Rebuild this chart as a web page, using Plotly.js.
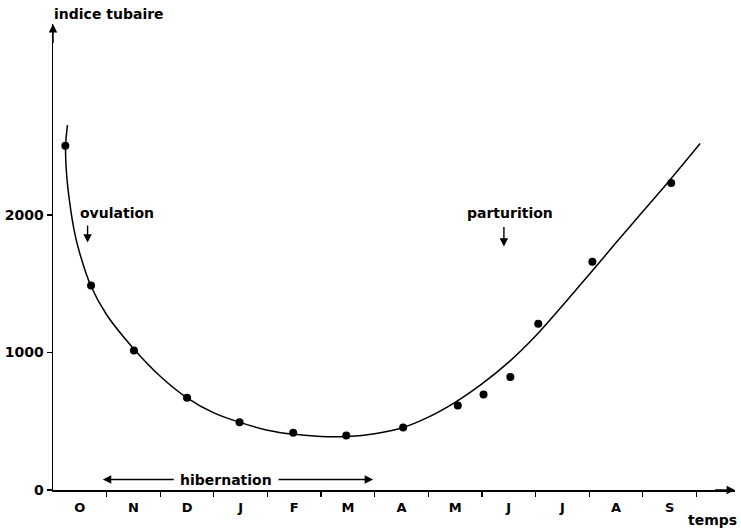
<!DOCTYPE html>
<html>
<head>
<meta charset="utf-8">
<script src="https://cdn.plot.ly/plotly-3.0.1.min.js"></script>
<style>html,body{margin:0;padding:0;background:#fff;}#chart{width:741px;height:530px;}</style>
</head>
<body>
<div id="chart"></div>
<script>
// Month labels (centred in each month interval) and tick boundaries
const months = ["O","N","D","J","F","M","A","M","J","J","A","S"];
const monthCenters = [0.5,1.5,2.5,3.5,4.5,5.5,6.5,7.5,8.5,9.5,10.5,11.5];
const monthBounds = [1,2,3,4,5,6,7,8,9,10,11,12];
const yTicks = [0, 1000, 2000];

// Observed points (time in months from start of October, indice tubaire)
const obsTime  = [0.23, 0.71, 1.51, 2.5, 3.48, 4.48, 5.47, 6.53, 7.55, 8.03, 8.53, 9.05, 10.06, 11.53];
const obsIndex = [2505, 1487, 1015, 671, 493, 416, 396, 455, 615, 695, 822, 1209, 1660, 2234];

// Fitted curve
const fitTime  = [0.27, 0.235, 0.255, 0.33, 0.41, 0.504, 0.709, 1.0, 1.5, 2.0, 2.5, 3.0, 3.5, 4.0, 4.5, 5.0, 5.5, 6.0, 6.53, 7.0, 7.5, 8.0, 8.5, 9.0, 9.5, 10.0, 10.5, 11.0, 11.5, 12.07];
const fitIndex = [2655, 2505, 2290, 2040, 1860, 1715, 1482, 1275, 1030, 828, 671, 561, 490, 435, 405, 390, 390, 410, 455, 530, 638, 772, 930, 1120, 1340, 1568, 1798, 2026, 2252, 2520];

const FONT = 'DejaVu Sans, Verdana, sans-serif';
const XMAX = 12.72, YMAX = 3390;

const traces = [
  {x: fitTime, y: fitIndex, mode: 'lines', line: {color: '#000', width: 1.5, shape: 'spline', smoothing: 0.9}, hoverinfo: 'skip', showlegend: false},
  {x: obsTime, y: obsIndex, mode: 'markers', marker: {color: '#000', size: 8}, showlegend: false},
  {x: monthCenters, y: monthCenters.map(() => 0), xaxis: 'x2', mode: 'none', hoverinfo: 'skip', showlegend: false}
];

const arrow = (x, y, ax, ay) => ({
  x: x, y: y, ax: ax, ay: ay, xref: 'x', yref: 'y', axref: 'x', ayref: 'y',
  text: '', showarrow: true, arrowhead: 2, arrowsize: 1.2, arrowwidth: 1.4, arrowcolor: '#000'
});
const label = (x, y, text, anchor, extra) => Object.assign({
  xref: 'x', yref: 'y', x: x, y: y, xanchor: anchor, yanchor: 'middle', text: text,
  showarrow: false, font: {family: FONT, size: 14, color: '#000', weight: 'bold'}
}, extra || {});

const annotations = [
  label(-0.0015, 1.0225, 'indice tubaire', 'left', {xref: 'paper', yref: 'paper'}),
  label(1.006, -0.064, 'temps', 'right', {xref: 'paper', yref: 'paper'}),
  label(0.466, 2018, 'ovulation', 'left'),
  label(7.68, 2018, 'parturition', 'left'),
  label(3.23, 76, 'hibernation', 'center'),
  arrow(0.645, 1800, 0.645, 1935),
  arrow(8.41, 1771, 8.41, 1925),
  arrow(0.93, 76, 2.28, 76),
  arrow(5.97, 76, 4.18, 76),
  arrow(0, YMAX, 0, YMAX - 150),
  arrow(XMAX, 0, XMAX - 0.4, 0)
];

const layout = {
  width: 741, height: 530,
  margin: {l: 53, r: 6, t: 24, b: 40},
  paper_bgcolor: '#fff', plot_bgcolor: '#fff',
  showlegend: false,
  xaxis: {
    range: [0, XMAX], tickvals: monthBounds, ticktext: monthBounds.map(() => ''),
    ticks: 'outside', ticklen: 5, tickwidth: 1.2, tickcolor: '#000',
    showline: true, linecolor: '#000', linewidth: 1.5,
    showgrid: false, zeroline: false, fixedrange: true
  },
  xaxis2: {
    overlaying: 'x', anchor: 'y', side: 'bottom', range: [0, XMAX],
    tickvals: monthCenters, ticktext: months, ticks: '', showline: false,
    showgrid: false, zeroline: false, ticklabelstandoff: 8,
    tickfont: {family: FONT, size: 13, color: '#000', weight: 'bold'}
  },
  yaxis: {
    range: [0, YMAX], tickvals: yTicks, ticktext: yTicks.map(String),
    ticks: 'outside', ticklen: 5, tickwidth: 1.2, tickcolor: '#000',
    showline: true, linecolor: '#000', linewidth: 1.5,
    showgrid: false, zeroline: false, ticklabelstandoff: 0,
    tickfont: {family: FONT, size: 14, color: '#000', weight: 'bold'}
  },
  annotations: annotations
};

Plotly.newPlot('chart', traces, layout, {displayModeBar: false, staticPlot: true});
</script>
</body>
</html>
